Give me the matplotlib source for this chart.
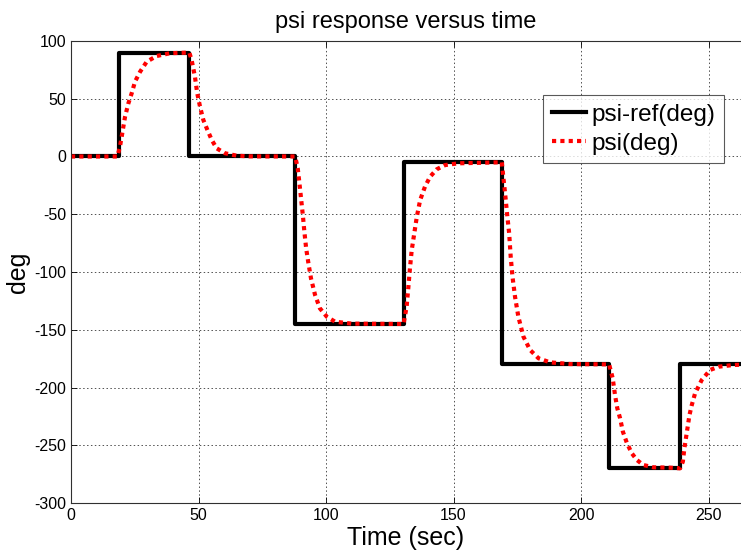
import matplotlib
matplotlib.use('Agg')
import matplotlib.pyplot as plt

plt.rcParams['font.family'] = ['Liberation Sans', 'DejaVu Sans']
plt.rcParams['axes.unicode_minus'] = False

# reference heading (step signal)
t_ref = [0, 18.8, 46.4, 87.9, 130.4, 168.9, 211.0, 238.8, 262.7]
psi_ref = [0, 90, 0, -145, -5, -180, -270, -180, -180]

t_psi = [0, 18.2, 19.2, 20.1, 21.2, 22.5, 23.8, 25.1, 27.1, 29.7, 33.6, 38.8, 46.4,
         47.3, 48.6, 49.5, 50.6, 51.9, 53.5, 55.2, 57.1, 60.4, 65.0, 70.0, 87.9,
         88.9, 89.5, 90.2, 90.9, 91.5, 92.2, 93.1, 94.1, 95.7, 97.6, 100.3, 103.5, 110.0, 130.4,
         131.6, 132.3, 132.9, 133.6, 134.6, 135.6, 136.9, 138.8, 140.8, 143.4, 146.7, 151.9, 168.9,
         169.5, 170.2, 171.1, 171.8, 172.4, 173.1, 174.1, 175.4, 177.4, 180.0, 183.3, 187.8, 195.7, 211.0,
         212.4, 213.3, 214.2, 215.3, 216.4, 218.0, 219.9, 221.9, 224.4, 228.4, 234.9, 238.8,
         239.9, 240.5, 241.5, 242.5, 243.4, 244.7, 246.0, 247.3, 250.6, 253.9, 259.7, 262.7]
psi = [0, 0, 8.5, 20.1, 34.5, 46.0, 54.7, 64.8, 73.4, 82.1, 87.0, 89.4, 90.0,
       83.5, 69.1, 54.7, 43.1, 31.6, 22.9, 14.3, 7.1, 2.8, 0.7, 0.1, 0,
       -10.2, -21.8, -36.2, -50.6, -65.0, -79.5, -92.5, -105.5, -119.9, -131.5, -138.7, -143.0, -144.7, -145,
       -130.0, -112.7, -96.8, -81.0, -66.5, -52.1, -37.7, -26.1, -17.5, -11.1, -7.4, -5.9, -5,
       -17.5, -31.9, -52.1, -66.5, -86.7, -104.0, -121.4, -138.7, -156.0, -167.5, -174.7, -178.2, -179.7, -180,
       -192.0, -206.5, -218.0, -226.7, -238.3, -248.3, -257.0, -262.8, -267.1, -269.1, -269.4, -270,
       -264.2, -252.6, -238.3, -223.8, -215.2, -205.0, -199.3, -193.5, -184.8, -182.0, -180.5, -180.3]

xticks = [0, 50, 100, 150, 200, 250]
yticks = [-300, -250, -200, -150, -100, -50, 0, 50, 100]

fig = plt.figure(figsize=(7.41, 5.51), dpi=100)
ax = fig.add_axes([0.0958, 0.0871, 0.9042, 0.8385])

ax.plot(t_ref, psi_ref, color='black', lw=3, drawstyle='steps-post', label='psi-ref(deg)')
ax.plot(t_psi, psi, color='red', lw=3, linestyle=(0, (1, 1)), dash_capstyle='butt', label='psi(deg)')

ax.set_xlim(0, 262.7)
ax.set_ylim(-300, 100)
ax.set_xticks(xticks)
ax.set_yticks(yticks)
ax.tick_params(direction='in', length=4, width=0.6, labelsize=11.5, top=True, right=False)
ax.grid(True, linestyle=(0, (1.5, 2.5)), color='#505050', linewidth=0.7)
for s in ['left', 'bottom', 'top']:
    ax.spines[s].set_linewidth(0.8)
    ax.spines[s].set_color('#303030')
ax.spines['right'].set_visible(False)

ax.set_title('psi response versus time', fontsize=17, pad=9)
ax.set_xlabel('Time (sec)', fontsize=18, labelpad=2)
ax.set_ylabel('deg', fontsize=18, labelpad=3)

leg = ax.legend(loc='upper right', bbox_to_anchor=(0.975, 0.883), fontsize=17.5,
                frameon=True, fancybox=False, borderaxespad=0, handlelength=1.4,
                handletextpad=0.25, borderpad=0.35, labelspacing=0.3)
leg.get_frame().set_edgecolor('#303030')
leg.get_frame().set_linewidth(0.8)

fig.savefig('out.png', dpi=100)
